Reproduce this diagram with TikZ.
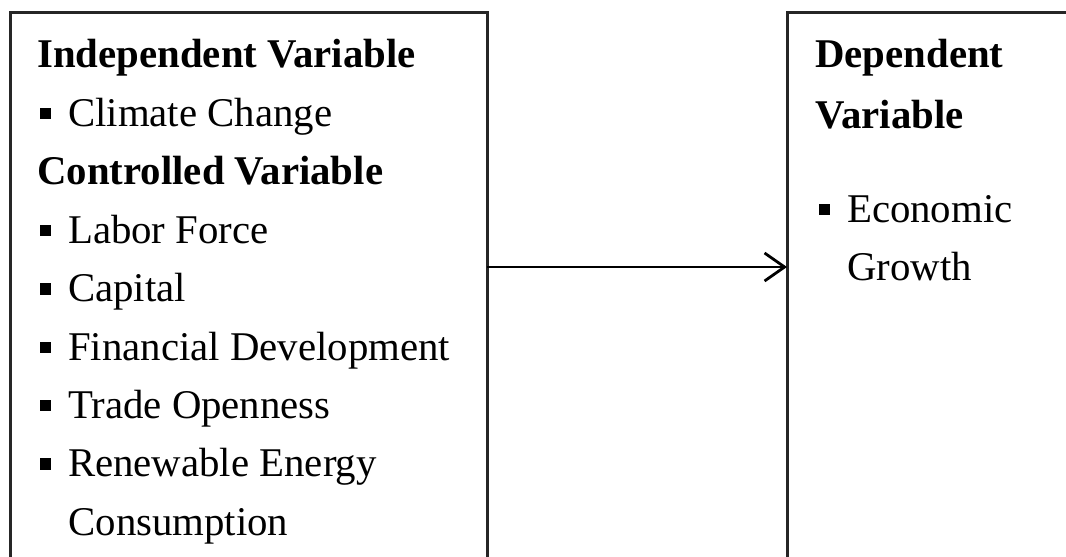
\documentclass[tikz,border=0pt]{standalone}
\usepackage{fontspec}
\setmainfont{Liberation Serif}
\usetikzlibrary{arrows.meta}
\tikzset{
  txt/.style={anchor=base west, inner sep=0pt, font=\fontsize{20.4}{24}\selectfont},
  head/.style={txt, font=\fontsize{20.4}{24}\selectfont\bfseries},
  frame/.style={line width=1.5pt, black!85},
}
\newcommand{\itm}{\rule[0.17em]{0.26em}{0.28em}\hspace{0.42em}}
\begin{document}
\begin{tikzpicture}[x=0.5pt,y=-0.5pt,line cap=butt,line join=miter]
  \useasboundingbox (0,0) rectangle (1066,557);
  % open boxes, cut off at the bottom / right
  \draw[frame] (10,557) -- (10,12) -- (487,12) -- (487,557);
  \draw[frame] (787,557) -- (787,12) -- (1070,12);
  % left box
  \node[head] (indep) at (37,68.0) {Independent Variable};
  \node[txt] (climate) at (40,126.4) {\itm Climate Change};
  \node[head] (controlled) at (37,184.8) {Controlled Variable};
  \node[txt] (labor) at (40,243.2) {\itm Labor Force};
  \node[txt] (capital) at (40,301.6) {\itm Capital};
  \node[txt] (findev) at (40,360.0) {\itm Financial Development};
  \node[txt] (trade) at (40,418.4) {\itm Trade Openness};
  \node[txt] (renew) at (40,476.8) {\itm Renewable Energy};
  \node[txt] (consump) at (68,535.2) {Consumption};
  % right box
  \node[head] (dep) at (815,68) {Dependent};
  \node[head] (depvar) at (815,128) {Variable};
  \node[txt] (econ) at (819,222) {\itm Economic};
  \node[txt] (growth) at (847,280) {Growth};
  % arrow
  \coordinate (leftedge) at (487,267);
  \coordinate (rightedge) at (787,267);
  \draw[line width=1.4pt, -{Straight Barb[length=10pt,width=14pt,line width=1.4pt]}] (leftedge) -- (rightedge);
\end{tikzpicture}
\end{document}
